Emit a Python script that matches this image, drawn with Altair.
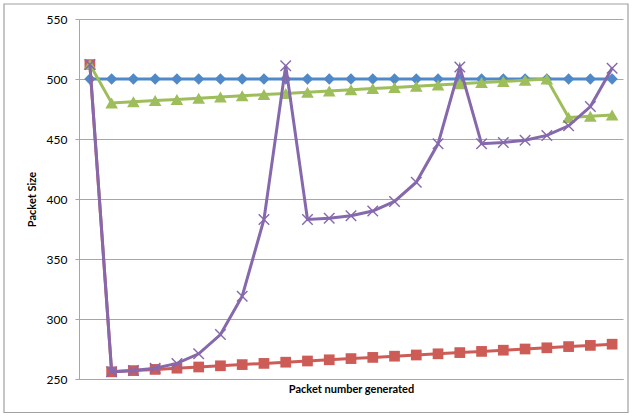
import altair as alt
import pandas as pd

# Packet index along the x axis (25 generated packets)
packet_no = list(range(25))

# Packet size per scheme
size_constant = [500, 500, 500, 500, 500, 500, 500, 500, 500, 500, 500, 500, 500,
                 500, 500, 500, 500, 500, 500, 500, 500, 500, 500, 500, 500]
size_linear_low = [512, 256, 257, 258, 259, 260, 261, 262, 263, 264, 265, 266, 267,
                   268, 269, 270, 271, 272, 273, 274, 275, 276, 277, 278, 279]
size_linear_high = [512, 480, 481, 482, 483, 484, 485, 486, 487, 488, 489, 490, 491,
                    492, 493, 494, 495, 496, 497, 498, 499, 500, 468, 469, 470]
size_exponential = [512, 256, 257, 259, 263, 271, 287, 319, 383, 511, 383, 384, 386,
                    390, 398, 414, 446, 510, 446, 447, 449, 453, 461, 477, 509]

series_names = ["Constant", "Linear low", "Linear high", "Exponential"]
series_values = [size_constant, size_linear_low, size_linear_high, size_exponential]
series_colors = ["#5089C8", "#CD5C57", "#9DBE5B", "#8668AC"]
series_shapes = ["diamond", "square", "triangle-up", "M-1,-1L1,1M-1,1L1,-1"]
series_sizes = [130, 115, 160, 110]

GRID = "#A6A6A6"
FONT = "Lato"

x_scale = alt.Scale(domain=[-0.5, 24.5], nice=False, zero=False)
y_scale = alt.Scale(domain=[250, 550], nice=False, zero=False)

x_axis = alt.Axis(title="Packet number generated", labels=False, ticks=False,
                  grid=False, domain=True, domainColor=GRID, titleFont=FONT,
                  titleFontSize=11, titleFontWeight="bold", titleColor="#000000",
                  titlePadding=4)
y_axis = alt.Axis(title="Packet Size", values=[250, 300, 350, 400, 450, 500, 550],
                  grid=True, gridColor=GRID, gridWidth=1.2, domainColor=GRID,
                  tickColor=GRID, tickSize=4, labelFont=FONT, labelFontSize=12,
                  labelColor="#000000", labelPadding=8, titleFont=FONT,
                  titleFontSize=11, titleFontWeight="bold", titleColor="#000000",
                  titlePadding=9)

X = alt.X("packet:Q", scale=x_scale, axis=x_axis)
Y = alt.Y("size:Q", scale=y_scale, axis=y_axis)

layers = []

# Chart-area frame
frame = alt.Chart(pd.DataFrame({"a": [0]})).mark_rect(
    fill=None, stroke="#A0A0A0", strokeWidth=1.2
).encode(x=alt.value(-75), x2=alt.value(549), y=alt.value(-15), y2=alt.value(393.5))
layers.append(frame)

for name, vals, color, shape, sz in zip(series_names, series_values,
                                        series_colors, series_shapes, series_sizes):
    df = pd.DataFrame({"packet": packet_no, "size": vals, "series": name})
    base = alt.Chart(df).encode(x=X, y=Y)
    line = base.mark_line(color=color, strokeWidth=3)
    if shape.startswith("M"):
        pts = base.mark_point(shape=shape, size=sz, filled=False, color=color,
                              strokeWidth=1.4, opacity=1)
    else:
        pts = base.mark_point(shape=shape, size=sz, filled=True, color=color,
                              opacity=1)
    layers.append(line)
    layers.append(pts)

chart = alt.layer(*layers).properties(
    width=544, height=360,
    autosize=alt.AutoSizeParams(type="none"),
    padding={"left": 79, "top": 19, "right": 9, "bottom": 37},
    background="white",
).configure_view(stroke=None)

chart.save("out.html", embed_options={"renderer": "svg", "actions": False})
